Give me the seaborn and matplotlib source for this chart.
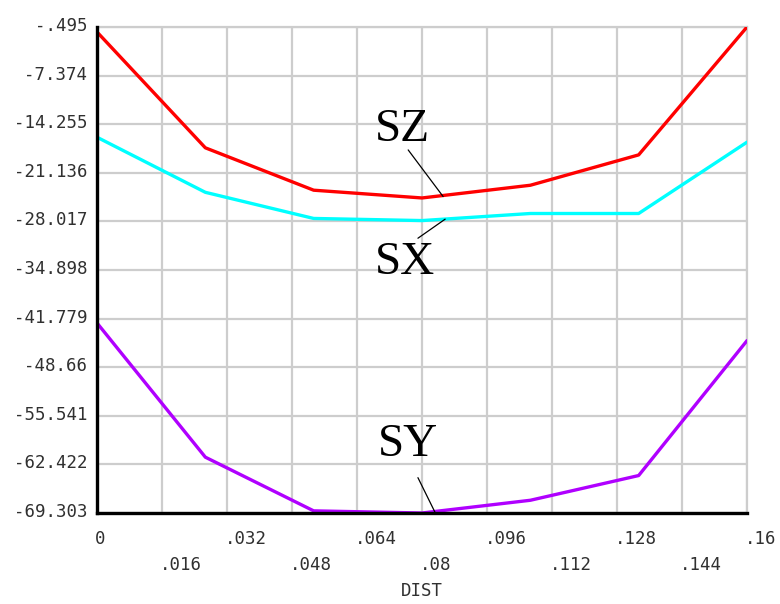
import matplotlib
matplotlib.use("Agg")
import matplotlib.pyplot as plt
import matplotlib.transforms as mtransforms
import numpy as np
import pandas as pd
import seaborn as sns

# Path distance (m) and stress components along the path
dist = [0.0, 0.02667, 0.05333, 0.08, 0.10667, 0.13333, 0.16]
sz = [-1.2, -17.6, -23.6, -24.7, -22.9, -18.6, -0.495]
sx = [-16.1, -23.9, -27.6, -27.9, -26.9, -26.9, -16.8]
sy = [-42.4, -61.4, -69.0, -69.303, -67.5, -64.0, -44.9]

series_names = ["SZ", "SX", "SY"]
series_colors = ["#ff0000", "#00ffff", "#b000ff"]

y_ticks = [-0.495, -7.374, -14.255, -21.136, -28.017, -34.898,
           -41.779, -48.66, -55.541, -62.422, -69.303]
y_tick_labels = ["-.495", "-7.374", "-14.255", "-21.136", "-28.017", "-34.898",
                 "-41.779", "-48.66", "-55.541", "-62.422", "-69.303"]
x_ticks = [0, 0.016, 0.032, 0.048, 0.064, 0.08, 0.096, 0.112, 0.128, 0.144, 0.16]
x_tick_labels = ["0", ".016", ".032", ".048", ".064", ".08", ".096",
                 ".112", ".128", ".144", ".16"]

df = pd.DataFrame({
    "DIST": dist * 3,
    "value": sz + sx + sy,
    "series": sum([[n] * len(dist) for n in series_names], []),
})

sns.set_style("white")
fig = plt.figure(figsize=(7.8, 6.04), dpi=100)
ax = fig.add_axes([97 / 780, 1 - 513 / 604, 650 / 780, 486 / 604])

grid_c = "#cdcdcd"
for xv in x_ticks:
    ax.axvline(xv, color=grid_c, lw=1.6, zorder=0)
for yv in y_ticks:
    ax.axhline(yv, color=grid_c, lw=1.6, zorder=0)

sns.lineplot(data=df, x="DIST", y="value", hue="series",
             palette=dict(zip(series_names, series_colors)),
             linewidth=2.4, legend=False, ax=ax, zorder=3)

ax.set_xlim(0, 0.16)
ax.set_ylim(y_ticks[-1], y_ticks[0])

tick_font = dict(family="DejaVu Sans Mono", size=12.5, color="#303030")

ax.set_yticks(y_ticks)
ax.set_yticklabels(y_tick_labels, **tick_font)
ax.tick_params(axis="y", length=0, pad=7)
up = mtransforms.ScaledTranslation(0, 3 / 100, fig.dpi_scale_trans)
for lab in ax.get_yticklabels():
    lab.set_transform(lab.get_transform() + up)

# staggered x labels: even positions on the first row, odd on the second
ax.set_xticks(x_ticks[0::2])
ax.set_xticklabels(x_tick_labels[0::2], ha="left", **tick_font)
ax.set_xticks(x_ticks[1::2], minor=True)
ax.set_xticklabels(x_tick_labels[1::2], minor=True, ha="left", **tick_font)
ax.tick_params(axis="x", which="major", length=10, width=1.6, color=grid_c, pad=2)
ax.tick_params(axis="x", which="minor", length=10, width=1.6, color=grid_c, pad=21)
left = mtransforms.ScaledTranslation(-2 / 100, 0, fig.dpi_scale_trans)
for lab in ax.get_xticklabels(which="both"):
    lab.set_transform(lab.get_transform() + left)

ax.set_xlabel("DIST", **tick_font, labelpad=6)
ax.set_ylabel("")

for side in ["top", "right"]:
    ax.spines[side].set_color(grid_c)
    ax.spines[side].set_linewidth(1.6)
for side in ["left", "bottom"]:
    ax.spines[side].set_color("black")
    ax.spines[side].set_linewidth(2.4)
    ax.spines[side].set_zorder(4)

label_font = dict(family="Liberation Serif", size=34, color="black",
                  ha="center", va="center")
labels = [
    ("SZ", (0.0753, -15.1), (0.0766, -17.9), (0.0852, -24.5)),
    ("SX", (0.0758, -33.9), (0.0790, -30.4), (0.0857, -27.7)),
    ("SY", (0.0766, -59.7), (0.0790, -64.3), (0.0832, -69.2)),
]
for text, pos, start, end in labels:
    ax.text(pos[0], pos[1], text, zorder=5, **label_font)
    ax.annotate("", xy=end, xytext=start,
                arrowprops=dict(arrowstyle="-", color="black", lw=0.9,
                                shrinkA=0, shrinkB=0), zorder=5)

fig.savefig("out.png", dpi=100)
